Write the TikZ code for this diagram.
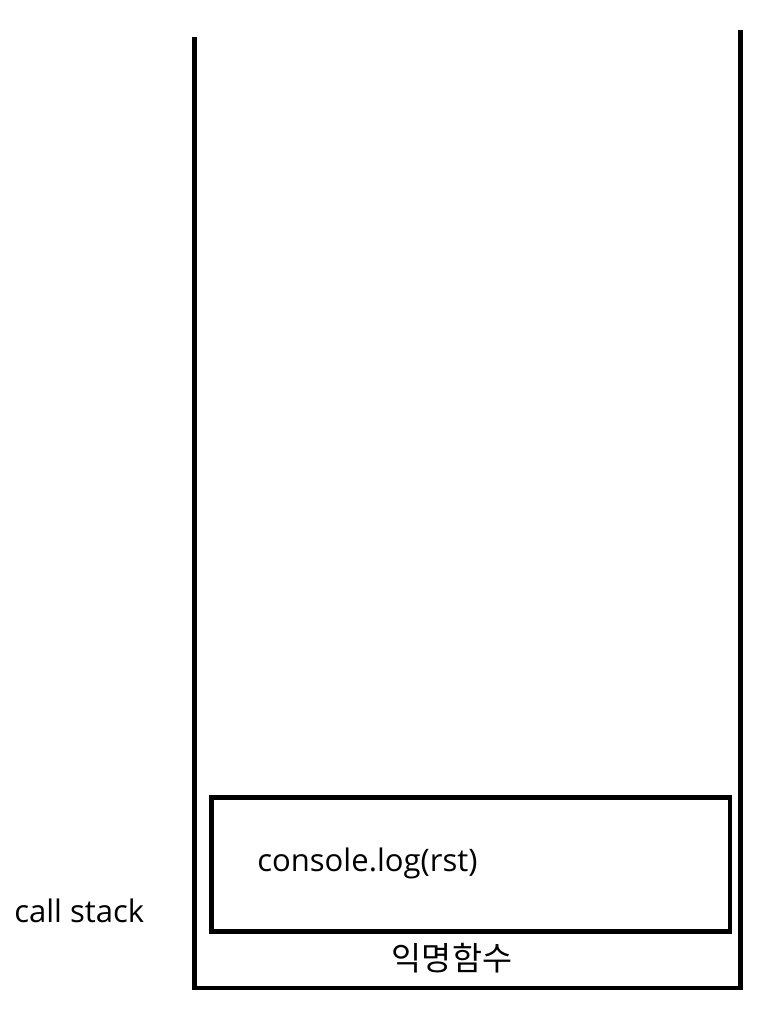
\documentclass[tikz,border=0pt]{standalone}
\usepackage{fontspec}
\setmainfont{Open Sans}
\newfontfamily\krfont{Noto Sans CJK KR}
\usetikzlibrary{positioning}
\tikzset{
  every picture/.style={line cap=butt, line join=miter},
  every node/.style={font=\fontsize{23.3}{28}\selectfont, text=black},
  wall/.style={line width=3.6pt, draw=black},
  frame/.style={
    draw=black,
    line width=3.6pt,
    minimum width=389pt,
    minimum height=100.5pt,
    inner sep=0pt
  },
  annot/.style={inner sep=0pt, anchor=west}
}
\begin{document}
\begin{tikzpicture}[x=0.75pt, y=-0.75pt]
  \useasboundingbox (0,0) rectangle (784,1018);

  % Stack walls
  \coordinate (lt) at (194.5,37);
  \coordinate (rt) at (740.5,30);
  \coordinate (lb) at (194.5,988);
  \coordinate (rb) at (740.5,988);
  \draw[wall] (lt) -- (lb) -- (rb) -- (rt);

  % Frame on the stack
  \node[frame] (frame) at (470.75,864.5) {};
  \node[annot] (log) at (257,863) {console.log(rst)};

  % Labels
  \node[annot] (stack) at (14,911) {call stack};
  \node[inner sep=0pt, font=\krfont\fontsize{24.5}{28}\selectfont] (anon) at (452,958) {익명함수};
\end{tikzpicture}
\end{document}
